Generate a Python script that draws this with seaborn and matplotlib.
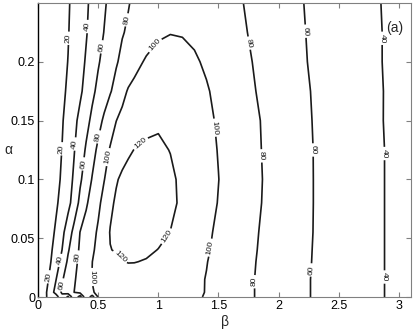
import numpy as np
import matplotlib
matplotlib.use("Agg")
import matplotlib.pyplot as plt
import seaborn as sns

# grid
beta = [0, 0.05, 0.1, 0.15, 0.2, 0.25, 0.3, 0.35, 0.4, 0.45, 0.5, 0.55, 0.6,
        0.65, 0.7, 0.75, 0.8, 0.9, 1.0, 1.1, 1.2, 1.3, 1.4, 1.5, 1.6, 1.7,
        1.8, 2.0, 2.2, 2.4, 2.6, 2.8, 3.0, 3.1]
alpha = [0, 0.004, 0.015, 0.03, 0.04, 0.055, 0.08, 0.1, 0.125, 0.15, 0.175,
         0.2, 0.225, 0.25]

# one row of values per alpha
z_rows = [
    [0, 16, 25, 30, 55, 35, 75, 50, 95, 70, 101, 104, 107, 109, 111, 111.3, 111.5, 110.5, 109, 107, 104.5, 102, 99, 94.6, 89.8, 84.9, 80, 71.1, 62.2, 55.4, 48.9, 42.6, 36.1, 32.8],
    [0, 13.3, 28.9, 47.3, 62.6, 71.3, 80, 85.6, 91.2, 98.8, 102.5, 105.5, 108, 110, 111.5, 111.8, 112, 111, 109.5, 107.5, 105, 102.5, 99.5, 94.6, 89.8, 84.9, 80, 71.1, 62.2, 55.4, 48.9, 42.6, 36.1, 32.8],
    [0, 11.1, 23.3, 39.6, 58.2, 68.6, 78.1, 85.9, 93.3, 100.4, 104, 107, 109.5, 111.7, 113.5, 113.9, 114, 113, 111.5, 109, 106, 103, 99.5, 94.6, 89.8, 84.9, 80, 71.1, 62.2, 55.4, 48.9, 42.6, 36.1, 32.8],
    [0, 9.1, 18.2, 30.7, 46, 63.5, 75.3, 83.8, 91.5, 99.8, 105.5, 110, 113.5, 116.5, 119.5, 120.5, 120.4, 119.2, 117, 114, 110.5, 106.2, 100.5, 95.5, 90.5, 85.5, 80.5, 71.6, 62.7, 55.4, 48.9, 42.6, 36.1, 32.8],
    [0, 8.2, 16.4, 26.8, 40.1, 58, 71.5, 82.7, 91, 97.7, 104, 110.5, 119.6, 121, 122, 122.8, 123, 122.2, 119.7, 116.5, 112, 107.2, 101.6, 96.4, 91.3, 86.2, 81, 71.9, 62.9, 55.5, 49, 42.6, 36.1, 32.8],
    [0, 7.1, 14.3, 22.5, 35, 50, 65.7, 80.4, 87.4, 94.8, 102.3, 111.4, 120.8, 122.5, 123.6, 124.6, 125.5, 125.8, 123.5, 119.8, 114, 108.1, 102.7, 97.4, 92.1, 86.8, 81.6, 72.3, 63.2, 55.7, 49.2, 42.6, 36.1, 32.8],
    [0, 5.9, 11.8, 17.6, 25.5, 34.5, 48, 65, 77.5, 87.3, 96.4, 105.6, 116.5, 122.5, 125, 126.5, 127.5, 128, 126.5, 123.2, 117.4, 111.2, 105.3, 99.4, 93.9, 88.3, 82.8, 73.2, 63.4, 55.7, 49.2, 42.6, 36.1, 32.8],
    [0, 5.3, 10.5, 15.8, 22, 32, 42.9, 57.1, 69.4, 81, 90.5, 99.5, 108, 118.5, 123, 125, 126.2, 127, 125.8, 122.6, 117.1, 111.4, 105.7, 100.2, 94.4, 88.9, 83.3, 73.2, 63.4, 55.7, 49.2, 42.6, 36.1, 32.8],
    [0, 5, 10, 15, 20.3, 29.5, 39, 50.6, 62.2, 73.3, 83.6, 92.7, 101.5, 108, 113.5, 117.8, 120.3, 122.8, 122.5, 119.6, 114.1, 109.3, 104.4, 99.4, 93.9, 88.3, 82.8, 72.9, 63.3, 55.7, 49.2, 42.6, 36.1, 32.8],
    [0, 4.7, 9.3, 14, 18.6, 26.4, 35.5, 44.8, 54.3, 64, 74, 83, 91.7, 99.8, 104.5, 108.2, 111, 115.5, 118, 117, 114.5, 110, 104, 97.9, 92.6, 87.4, 82.1, 73.3, 62.9, 55.4, 48.9, 42.3, 35.7, 32.5],
    [0, 4.3, 8.5, 12.8, 17, 22.2, 29.6, 37, 46, 56, 64.3, 71.5, 78.6, 86, 95, 101.5, 104.5, 109, 112, 111.5, 110, 106.5, 101.5, 95.9, 90.8, 85.6, 80.5, 71.4, 62.3, 55.2, 48.7, 42.3, 35.8, 32.6],
    [0, 4, 8, 12, 16, 20.3, 27.1, 34.3, 41.7, 50, 58.3, 65.2, 72, 78.3, 84.2, 89.5, 94.7, 102, 106, 106.5, 105, 102, 97.7, 93, 88.4, 83.7, 79.1, 70.2, 61.3, 54.6, 48.3, 41.9, 35.6, 32.5],
    [0, 3.8, 7.7, 11.5, 15.4, 19.2, 25.3, 32, 38.7, 46.2, 53.8, 60.5, 67.1, 73, 78.8, 82.3, 85.5, 92, 97.5, 99.5, 99, 97, 93.5, 90, 86, 81.7, 77.5, 69.2, 60.8, 54.4, 48.1, 41.9, 35.6, 32.5],
    [0, 3.7, 7.4, 11.1, 14.8, 18.5, 24, 30.7, 37.3, 44.3, 51.4, 57.8, 64.2, 69.5, 74.7, 79, 83, 89, 93.5, 96, 95.5, 93.5, 90, 87, 83.5, 80.3, 76, 68, 60.3, 53.8, 47.7, 41.5, 35.5, 32.5],
]
levels = [20, 40, 60, 80, 100, 120]

x_ticks = [0, 0.5, 1, 1.5, 2, 2.5, 3]
x_labels = ["0", "0.5", "1", "1.5", "2", "2.5", "3"]
y_ticks = [0, 0.05, 0.1, 0.15, 0.2]
y_labels = ["0", "0.05", "0.1", "0.15", "0.2"]

# where the inline labels sit
label_spots = [
    (0.26, 0.22), (0.2, 0.126), (0.1, 0.017),
    (0.41, 0.23), (0.32, 0.13), (0.19, 0.031),
    (0.51, 0.213), (0.39, 0.113), (0.22, 0.01),
    (0.72, 0.236), (0.51, 0.136), (0.33, 0.034),
    (0.95, 0.216), (0.58, 0.119), (0.44, 0.017), (1.47, 0.144), (1.43, 0.042),
    (0.85, 0.131), (1.05, 0.053), (0.68, 0.034),
    (1.76, 0.216), (1.85, 0.12), (1.8, 0.013),
    (2.22, 0.226), (2.28, 0.125), (2.27, 0.023),
    (2.86, 0.22), (2.87, 0.122), (2.89, 0.017),
]

sns.set_theme(style="ticks")
plt.rcParams["font.family"] = ["Liberation Sans", "DejaVu Sans"]

fig = plt.figure(figsize=(4.15, 3.31), dpi=100)
ax = fig.add_axes([38 / 415, 1 - 297 / 331, 373 / 415, 294 / 331])

Z = np.array(z_rows)
cs = ax.contour(beta, alpha, Z, levels=levels, colors="k", linewidths=1.2)
ax.clabel(cs, fmt="%d", fontsize=6, inline=True, inline_spacing=2,
          manual=label_spots)

ax.set_xlim(0, 3.1)
ax.set_ylim(0, 0.25)
ax.set_xticks(x_ticks)
ax.set_xticklabels(x_labels)
ax.set_yticks(y_ticks)
ax.set_yticklabels(y_labels)
ax.tick_params(direction="in", length=3.5, width=0.8, colors="#808080",
               labelcolor="black", labelsize=9, top=True, right=True, pad=2)

for side in ["top", "right", "bottom"]:
    ax.spines[side].set_color("#808080")
    ax.spines[side].set_linewidth(0.8)
ax.spines["left"].set_color("black")
ax.spines["left"].set_linewidth(1.0)

ax.set_xlabel("β", fontsize=10, labelpad=0)
ax.set_ylabel("α", fontsize=10, rotation=0)
ax.xaxis.set_label_coords(0.501, -0.062)
ax.yaxis.set_label_coords(-0.08, 0.475)

ax.text(2.89, 0.229, "(a)", fontsize=10, va="center", ha="left")

fig.savefig("out.png", dpi=100)
